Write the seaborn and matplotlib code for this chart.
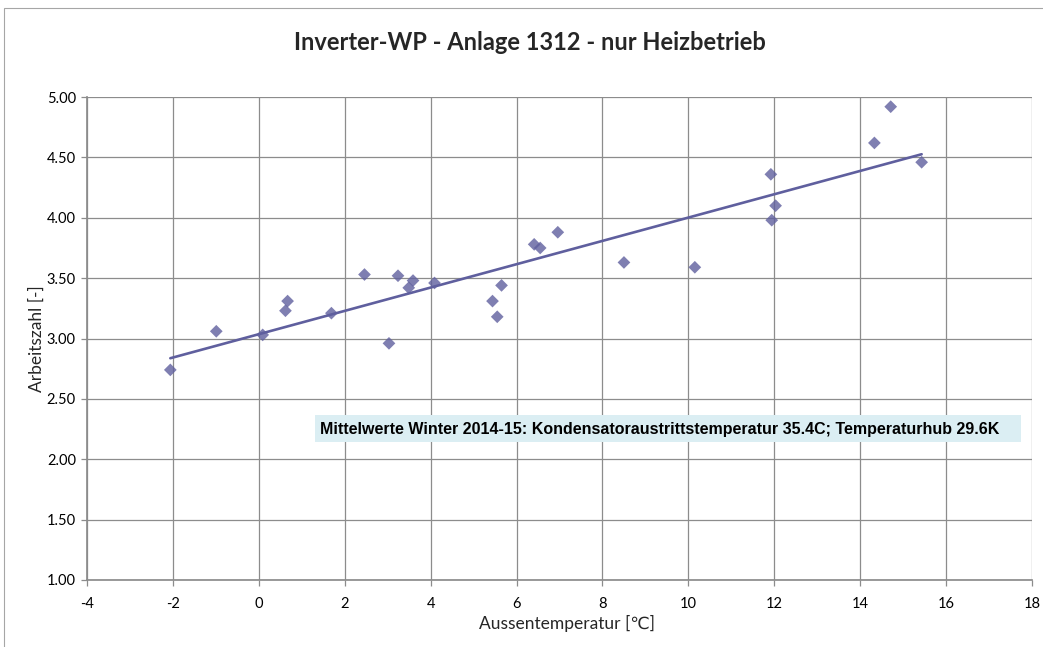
import matplotlib
matplotlib.use("Agg")
import matplotlib.pyplot as plt
import matplotlib.patches as mpatches
import numpy as np
import pandas as pd
import seaborn as sns

# Außentemperatur [°C] und Arbeitszahl [-] je Messperiode
aussentemperatur = [-2.06, -0.99, 0.09, 0.62, 0.67, 1.69, 2.46, 3.03, 3.24, 3.59,
                    3.49, 4.09, 5.65, 5.44, 5.55, 6.41, 6.55, 6.96, 8.50, 10.15,
                    11.92, 12.03, 11.94, 14.33, 14.71, 15.43]
arbeitszahl = [2.74, 3.06, 3.03, 3.23, 3.31, 3.21, 3.53, 2.96, 3.52, 3.48,
               3.42, 3.46, 3.44, 3.31, 3.18, 3.78, 3.75, 3.88, 3.63, 3.59,
               4.36, 4.10, 3.98, 4.62, 4.92, 4.46]

x_ticks = [-4, -2, 0, 2, 4, 6, 8, 10, 12, 14, 16, 18]
y_ticks = [1.00, 1.50, 2.00, 2.50, 3.00, 3.50, 4.00, 4.50, 5.00]

titel = "Inverter-WP - Anlage 1312 - nur Heizbetrieb"
hinweis = ("Mittelwerte Winter 2014-15: Kondensatoraustrittstemperatur 35.4C; "
           "Temperaturhub 29.6K")

df = pd.DataFrame({"Aussentemperatur": aussentemperatur, "Arbeitszahl": arbeitszahl})

sns.set_theme(style="white")
plt.rcParams["font.family"] = ["Lato", "DejaVu Sans"]

farbe = "#5f5f9e"
gitter = "#8c8c8c"

fig = plt.figure(figsize=(10.43, 6.47), dpi=100)
ax = fig.add_axes([0.0834, 0.1036, 0.9061, 0.7464])

# Rahmen des Diagrammbereichs
fig.patches.append(mpatches.Rectangle((4 / 1043, -0.01), 1.1, 1 - 8 / 647 + 0.01,
                                      transform=fig.transFigure, fill=False,
                                      edgecolor="#a6a6a6", linewidth=0.8))

sns.regplot(data=df, x="Aussentemperatur", y="Arbeitszahl", ax=ax, ci=None,
            truncate=True, marker="D", color=farbe,
            scatter_kws={"s": 42, "edgecolor": "none", "zorder": 4},
            line_kws={"linewidth": 1.9, "zorder": 3})

ax.set_xlim(-4, 18)
ax.set_ylim(1.0, 5.0)
ax.set_xticks(x_ticks)
ax.set_yticks(y_ticks)
ax.set_xticklabels([str(t) for t in x_ticks], fontsize=10.5)
ax.set_yticklabels([f"{t:.2f}" for t in y_ticks], fontsize=10.5)
ax.grid(True, color=gitter, linewidth=0.9)
ax.set_axisbelow(True)
for s in ax.spines.values():
    s.set_visible(False)
ax.spines["left"].set_visible(True)
ax.spines["bottom"].set_visible(True)
ax.spines["left"].set_color(gitter)
ax.spines["bottom"].set_color(gitter)
ax.tick_params(axis="both", direction="out", length=4, width=0.9, color=gitter,
               pad=4, labelcolor="black", bottom=True, left=True)
ax.tick_params(axis="x", pad=8)

ax.set_xlabel("Aussentemperatur [℃]", fontsize=12.5)
ax.xaxis.set_label_coords(0.508, -0.072)
ax.set_ylabel("Arbeitszahl [-]", fontsize=12.5)
ax.yaxis.set_label_coords(-0.045, 0.5)

fig.text(0.508, 1 - 43 / 647, titel, ha="center", va="center",
         fontsize=17, fontweight="bold")

# Hinweisfeld mit den Mittelwerten
ax.add_patch(mpatches.Rectangle((1.30, 2.145), 16.44, 0.221, facecolor="#dbeef3",
                                edgecolor="none", zorder=5))
ax.text(1.42, 2.25, hinweis, ha="left", va="center", fontsize=11.5,
        fontweight="bold", color="black", zorder=6,
        family=["Liberation Sans", "DejaVu Sans"])

fig.savefig("out.png", dpi=100)
